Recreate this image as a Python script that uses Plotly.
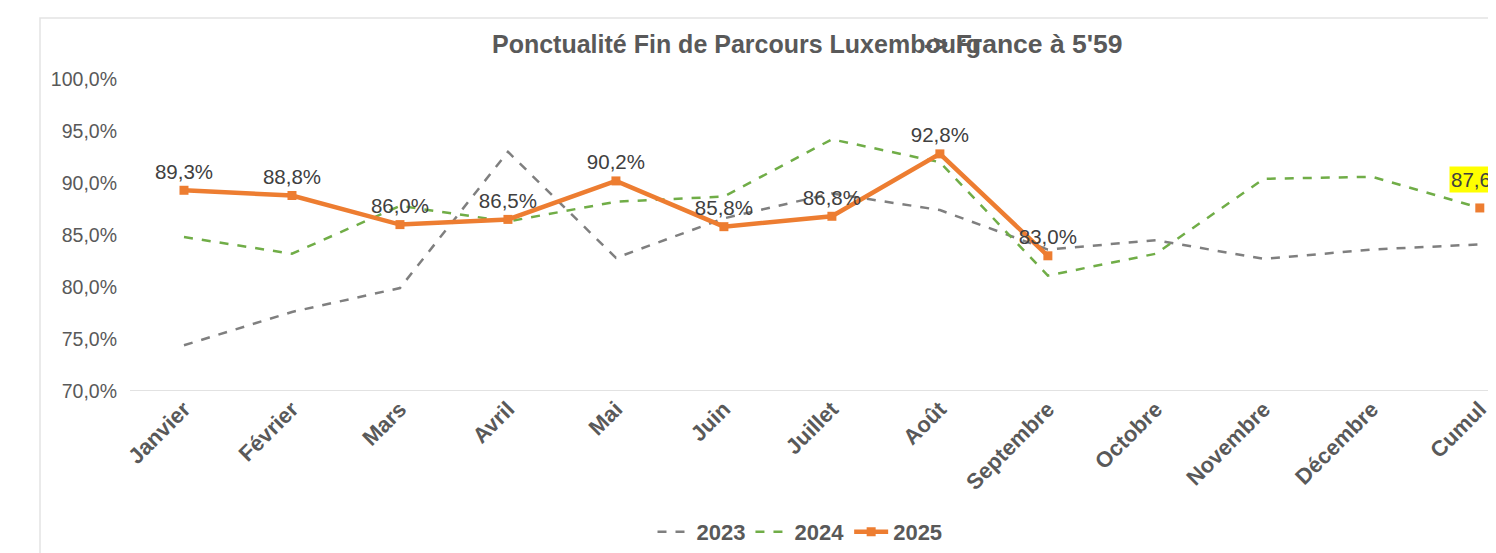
"""Ponctualité fin de parcours Luxembourg -> France, courbes mensuelles par année."""

import plotly.graph_objects as go

MOIS = [
    "Janvier", "Février", "Mars", "Avril", "Mai", "Juin", "Juillet",
    "Août", "Septembre", "Octobre", "Novembre", "Décembre", "Cumul",
]
PONCT_2023 = [74.4, 77.6, 79.9, 93.0, 82.8, 86.6, 89.0, 87.4, 83.6, 84.5, 82.7, 83.6, 84.1]
PONCT_2024 = [84.8, 83.2, 87.8, 86.3, 88.2, 88.7, 94.2, 92.0, 81.1, 83.2, 90.4, 90.6, 87.6]
PONCT_2025 = [89.3, 88.8, 86.0, 86.5, 90.2, 85.8, 86.8, 92.8, 83.0, None, None, None, 87.6]
Y_TICKS = [70, 75, 80, 85, 90, 95, 100]

GRIS_TEXTE = "#595959"
FONT = "Liberation Sans, Arial, sans-serif"

# la page html ajoute 8 px de marge au body : on décale tout d'autant
W, H = 1488, 545
PLOT_L, PLOT_T, PLOT_H = 122, 71, 312
PLOT_W = W - PLOT_L


def fmt_pct(v: float) -> str:
    return f"{v:.1f}%".replace(".", ",")


fig = go.Figure()

fig.add_trace(
    go.Scatter(
        x=MOIS, y=PONCT_2023, name="<b>2023</b>", mode="lines",
        line={"color": "#7f7f7f", "width": 2.5, "dash": "dash"},
    )
)
fig.add_trace(
    go.Scatter(
        x=MOIS, y=PONCT_2024, name="<b>2024</b>", mode="lines",
        line={"color": "#70ad47", "width": 2.5, "dash": "dash"},
    )
)

# les libellés des mois en texte, le cumul en annotation surlignée
labels_2025 = [
    fmt_pct(v) if v is not None and m != "Cumul" else ""
    for m, v in zip(MOIS, PONCT_2025)
]
fig.add_trace(
    go.Scatter(
        x=MOIS, y=PONCT_2025, name="<b>2025</b>", mode="lines+markers+text",
        line={"color": "#ed7d31", "width": 4.5},
        marker={"symbol": "square", "size": 9, "color": "#ed7d31"},
        text=labels_2025, textposition="top center",
        textfont={"color": "#404040", "size": 20.5, "family": FONT},
        connectgaps=False, cliponaxis=False,
    )
)

fig.add_annotation(
    x=MOIS[-1], y=PONCT_2025[-1], text=fmt_pct(PONCT_2025[-1]),
    showarrow=False, yshift=28, bgcolor="#ffff00", borderpad=1,
    font={"color": "#404040", "size": 20.5, "family": FONT},
)

# titre (reproduit tel quel, les deux morceaux se chevauchent)
title_y = 1 + (79 - 44) / PLOT_H
fig.add_annotation(
    xref="paper", yref="paper", x=(490 - 130) / PLOT_W, y=title_y,
    xanchor="left", yanchor="middle", showarrow=False,
    text="<b>Ponctualité Fin de Parcours Luxembourg</b>",
    font={"color": GRIS_TEXTE, "size": 25, "family": FONT},
)
fig.add_annotation(
    xref="paper", yref="paper", x=(1125 - 130) / PLOT_W, y=title_y,
    xanchor="right", yanchor="middle", showarrow=False,
    text="<b>-> France à 5'59</b>",
    font={"color": GRIS_TEXTE, "size": 26.5, "family": FONT},
)

# cadre de la zone graphique
fig.add_shape(
    type="rect", xref="paper", yref="paper",
    x0=(40 - 130) / PLOT_W, x1=1.2, y0=-1.0, y1=1 + (79 - 18) / PLOT_H,
    line={"color": "#e3e3e3", "width": 1.5}, layer="below",
)

fig.update_layout(
    width=W, height=H,
    margin={"l": PLOT_L, "r": 0, "t": PLOT_T, "b": H - PLOT_T - PLOT_H, "autoexpand": False},
    paper_bgcolor="white", plot_bgcolor="white",
    font={"family": FONT, "color": GRIS_TEXTE},
    showlegend=True,
    legend={
        "orientation": "h", "x": (800 - 130) / PLOT_W, "xanchor": "center",
        "y": (391 - 532) / PLOT_H, "yanchor": "middle",
        "font": {"size": 22, "color": GRIS_TEXTE, "family": FONT},
        "itemwidth": 34, "traceorder": "normal",
    },
)
fig.update_xaxes(
    type="category", range=[-0.5, 12.15], automargin=False,
    showgrid=False, zeroline=False, showline=False,
    tickangle=-45, ticks="",
    tickfont={"size": 22, "color": GRIS_TEXTE, "family": FONT},
    tickprefix="<b>", ticksuffix="</b>",
)
fig.update_yaxes(
    range=[70, 100], tickvals=Y_TICKS, automargin=False,
    ticktext=[fmt_pct(v) for v in Y_TICKS],
    showgrid=False, zeroline=False, showline=False, ticks="",
    ticklabelstandoff=12,
    tickfont={"size": 19.5, "color": GRIS_TEXTE, "family": FONT},
)
# ligne de base à 70 %
fig.add_shape(
    type="line", xref="paper", yref="y", x0=0, x1=1, y0=70, y1=70,
    line={"color": "#d9d9d9", "width": 1.5}, layer="below",
)

fig.write_html("out.html")
